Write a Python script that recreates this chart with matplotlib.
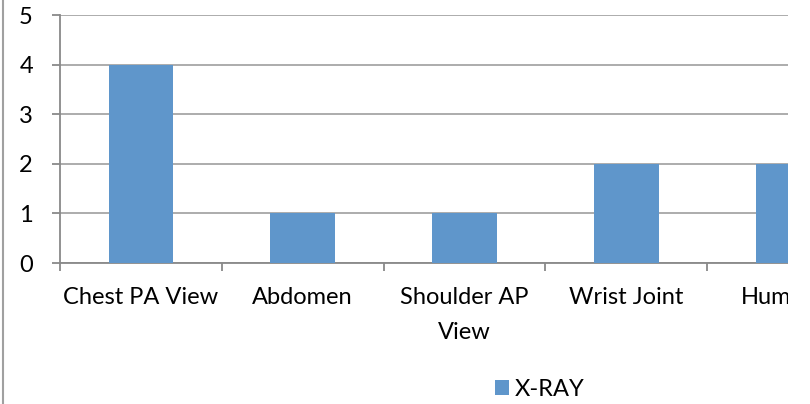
import matplotlib
matplotlib.use("Agg")
import numpy as np
from matplotlib import pyplot as plt
from matplotlib.patches import Rectangle
from matplotlib.lines import Line2D

categories = ["Chest PA View", "Abdomen", "Shoulder AP\nView", "Wrist Joint", "Humerus"]
xray = [4, 1, 1, 2, 2]
yticks = [0, 1, 2, 3, 4, 5]

bar_color = "#5F96CB"
grid_color = "#A6A6A6"
axis_color = "#898989"

plt.rcParams["font.family"] = ["Lato", "DejaVu Sans"]
fs = 17

fig = plt.figure(figsize=(8.10, 4.04), dpi=100)
W, H = 810, 404
ax = fig.add_axes([60 / W, 1 - 263 / H, (788 - 60) / W, (263 - 15) / H])

x = np.arange(len(categories))
ax.bar(x, xray, width=0.4, color=bar_color, zorder=3, label="X-RAY")

ax.set_xlim(-0.5, -0.5 + 728 / 162.5)
ax.set_ylim(0, 5)
ax.set_yticks(yticks)
ax.set_yticklabels([str(v) for v in yticks], fontsize=fs)
ax.yaxis.grid(True, color=grid_color, linewidth=1.3, zorder=0)
ax.set_axisbelow(True)

ax.set_xticks(x)
ax.set_xticklabels(categories, fontsize=fs, linespacing=1.85)
ax.set_xticks(np.arange(len(categories)) - 0.5, minor=True)
ax.tick_params(axis="x", which="major", length=0, pad=17)
ax.tick_params(axis="x", which="minor", length=6, width=1.3, color=axis_color)
ax.tick_params(axis="y", length=5.5, width=1.3, color=axis_color, pad=14)

for s in ["top", "right"]:
    ax.spines[s].set_visible(False)
for s in ["left", "bottom"]:
    ax.spines[s].set_color(axis_color)
    ax.spines[s].set_linewidth(1.3)

fig.legend(loc="center", bbox_to_anchor=(540 / W, 1 - 389 / H), frameon=False,
           fontsize=fs, handlelength=0.6, handleheight=0.6, handletextpad=0.25)

# chart area cut off on the right, border on the left
fig.patches.append(Rectangle((788 / W, 0), 1, 1, transform=fig.transFigure,
                             facecolor="white", edgecolor="none", zorder=10))
fig.lines.append(Line2D([2.5 / W, 2.5 / W], [0, 1], transform=fig.transFigure,
                        color="#A0A0A0", linewidth=1.5, zorder=11))

fig.savefig("out.png", dpi=100)
